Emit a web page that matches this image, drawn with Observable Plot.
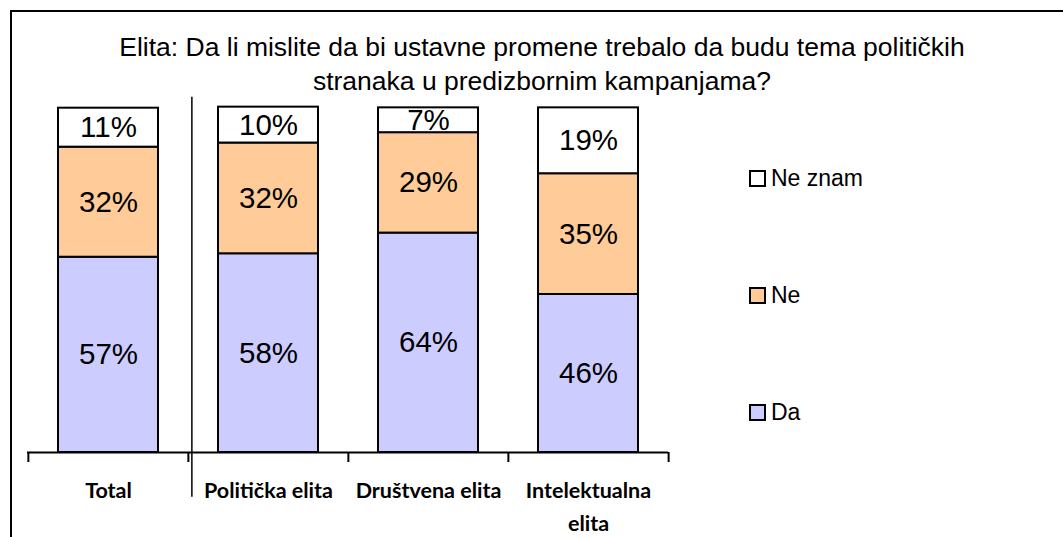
<!DOCTYPE html>
<html><head><meta charset="utf-8">
<script src="https://cdn.jsdelivr.net/npm/d3@7"></script>
<script src="https://cdn.jsdelivr.net/npm/@observablehq/plot@0.6"></script>
<style>
body{margin:0;background:#fff;}
#wrap{position:relative;width:1063px;height:537px;overflow:hidden;font-family:"Liberation Sans",Arial,sans-serif;color:#000;}
#chart{position:absolute;left:0;top:0;}
#frame{position:absolute;left:10px;top:10px;width:1100px;height:600px;border-left:2px solid #000;border-top:2px solid #000;}
#title{position:absolute;left:0;width:1084px;top:30px;text-align:center;font-size:26.5px;line-height:34px;}
.leg{position:absolute;left:749px;height:30px;display:flex;align-items:center;font-size:23px;}
.sw{width:13px;height:13px;border:2px solid #000;margin-right:5px;}
</style></head>
<body>
<div id="wrap">
  <div id="chart"></div>
  <div id="frame"></div>
  <div id="title">Elita: Da li mislite da bi ustavne promene trebalo da budu tema političkih<br>stranaka u predizbornim kampanjama?</div>
  <div id="legend"></div>
</div>
<script>
const categories = ["Total", "Politička elita", "Društvena elita", "Intelektualna elita"];
const series = ["Da", "Ne", "Ne znam"];
const da = [56.6, 57.6, 63.6, 45.8];
const ne = [31.9, 32.1, 29.1, 35.0];
const neZnam = [11.3, 10.4, 7.2, 19.1];
const colors = ["#CCCCFF", "#FFCC99", "#FFFFFF"];
const legendOrder = ["Ne znam", "Ne", "Da"];

const values = [da, ne, neZnam];
const data = [];
series.forEach((s, si) => categories.forEach((c, ci) => data.push({category: c, series: s, value: values[si][ci]})));

const W = 1063, H = 537, mL = 27, mR = 395, mT = 107, mB = 85;
const step = (W - mL - mR) / categories.length;

const chart = Plot.plot({
  width: W, height: H,
  marginLeft: mL, marginRight: mR, marginTop: mT, marginBottom: mB,
  style: {background: "transparent", overflow: "visible", fontFamily: "'Liberation Sans', Arial, sans-serif", color: "#000"},
  x: {domain: categories, paddingInner: 0.376, paddingOuter: 0.188, label: null},
  y: {domain: [0, 100], axis: null},
  color: {domain: series, range: colors},
  marks: [
    Plot.barY(data, {x: "category", y: "value", fill: "series", stroke: "#000", strokeWidth: 2}),
    Plot.text(data, Plot.stackY({x: "category", y: "value", z: "series", text: d => Math.round(d.value) + "%", fontSize: 29.5, fill: "#000"})),
    Plot.ruleY([0], {stroke: "#000", strokeWidth: 2}),
    Plot.ruleX(categories, {x: d => d, dx: -step / 2, y1: 0, y2: -2.9, stroke: "#000", strokeWidth: 2}),
    Plot.ruleX([categories[categories.length - 1]], {x: d => d, dx: step / 2, y1: 0, y2: -2.9, stroke: "#000", strokeWidth: 2}),
    Plot.ruleX([categories[1]], {x: d => d, dx: -step / 2 + 3.5, y1: -13, y2: 103, stroke: "#000", strokeWidth: 1.5}),
    Plot.axisX({tickSize: 0, tickPadding: 23, fontSize: 21.5, fontWeight: "bold", fontFamily: "Lato", lineHeight: 1.5, label: null,
      tickFormat: d => d === "Intelektualna elita" ? "Intelektualna\nelita" : d})
  ]
});
document.getElementById("chart").appendChild(chart);

const legend = document.getElementById("legend");
const legendCenters = [178, 295, 412];
legendOrder.forEach((s, i) => {
  const item = document.createElement("div");
  item.className = "leg";
  item.style.top = (legendCenters[i] - 15) + "px";
  const sw = document.createElement("div");
  sw.className = "sw";
  sw.style.background = colors[series.indexOf(s)];
  item.appendChild(sw);
  item.appendChild(document.createTextNode(s));
  legend.appendChild(item);
});
</script>
</body></html>
